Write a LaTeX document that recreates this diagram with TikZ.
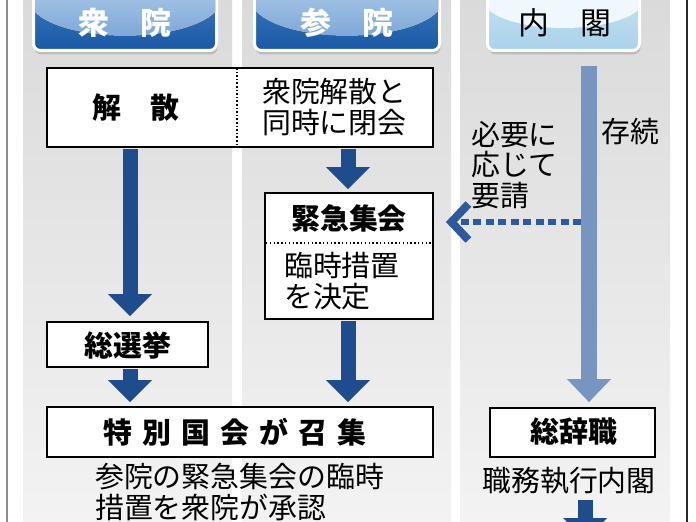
\documentclass[tikz,border=0pt]{standalone}
\usepackage{fontspec}
\setmainfont{Noto Sans CJK JP}
\usetikzlibrary{arrows.meta,shadows}
\definecolor{navy}{HTML}{1F4C8C}
\definecolor{paleblue}{HTML}{7895C0}
\definecolor{dashblue}{HTML}{2C5A9B}
\definecolor{colTop}{HTML}{DADADA}
\definecolor{colBot}{HTML}{F3F3F3}
\definecolor{hdDarkTop}{HTML}{3F7CC2}
\definecolor{hdDarkBot}{HTML}{1B58A5}
\definecolor{hdHiTop}{HTML}{BCD5EE}
\definecolor{hdHiBot}{HTML}{7EA8D8}
\definecolor{hdLtTop}{HTML}{C8E4F2}
\definecolor{hdLtBot}{HTML}{A9D2EA}
\definecolor{hdLtHi}{HTML}{EEF8FD}
\begin{document}
\begin{tikzpicture}[x=1bp,y=-1bp,
  box/.style={draw=black, line width=1.8bp, fill=white, inner sep=0pt},
  reg/.style={font=\fontsize{29}{31}\selectfont, inner sep=0pt, align=left},
  bld/.style={font=\fontsize{29}{31}\selectfont\bfseries, inner sep=0pt},
  hd/.style={font=\fontsize{31}{33}\selectfont\bfseries, inner sep=0pt},
  hdbox/.style={draw=white, line width=3bp, rounded corners=7bp,
     drop shadow={shadow xshift=1bp, shadow yshift=-4bp, opacity=0.35}},
  bigarrow/.style={draw=navy, line width=15bp,
     -{Triangle[width=44bp,length=22bp,line width=0pt]}},
  palearrow/.style={draw=paleblue, line width=16bp,
     -{Triangle[width=44bp,length=23bp,line width=0pt]}},
  dasharrow/.style={draw=dashblue, line width=6bp, dash pattern=on 8bp off 4.5bp,
     -{Straight Barb[width=36bp,length=17bp,line width=8bp]}}
]
\useasboundingbox (0,0) rectangle (696,522);
\fill[white] (0,0) rectangle (696,522);
% columns
\shade[top color=colTop, bottom color=colBot] (23,-2) rectangle (232,524);
\shade[top color=colTop, bottom color=colBot] (242,-2) rectangle (451,524);
\shade[top color=colTop, bottom color=colBot] (460,-2) rectangle (670,524);
% frame lines
\draw[black!45, line width=1.5bp] (7,-2) -- (7,524);
\draw[black!85, line width=1.5bp] (687,-2) -- (687,524);

% headers
\path[hdbox, top color=hdDarkTop, bottom color=hdDarkBot] (33.5,-14) rectangle (216.5,50.5);
\begin{scope}
  \clip[rounded corners=6bp] (35,-14) rectangle (215,49);
  \fill[top color=hdHiTop, bottom color=hdHiBot] (125,0) ellipse [x radius=96bp, y radius=36bp];
\end{scope}
\path[hdbox, top color=hdDarkTop, bottom color=hdDarkBot] (254.5,-14) rectangle (439.5,50.5);
\begin{scope}
  \clip[rounded corners=6bp] (256,-14) rectangle (438,49);
  \fill[top color=hdHiTop, bottom color=hdHiBot] (347,0) ellipse [x radius=96bp, y radius=36bp];
\end{scope}
\path[hdbox, top color=hdLtTop, bottom color=hdLtBot] (487.5,-14) rectangle (639.5,50.5);
\begin{scope}
  \clip[rounded corners=6bp] (489,-14) rectangle (638,49);
  \fill[hdLtHi] (563.5,0) ellipse [x radius=80bp, y radius=28bp];
\end{scope}
\node[hd, text=white] (hshu) at (125,23) {衆　院};
\node[hd, text=white] (hsan) at (347,23) {参　院};
\node[hd, font=\fontsize{31}{33}\selectfont, text=black] (hnai) at (565,23) {内　閣};

% column coordinates
\coordinate (c1) at (130,0);
\coordinate (c2) at (348,0);
\coordinate (c3) at (589,0);
\coordinate (ntop) at (589,66);
\coordinate (dstart) at (581,222);
\coordinate (bend) at (585,540);

% boxes
\node[box, minimum width=386bp, minimum height=79bp] (kaisan) at (240,107.5) {};
\node[box, minimum width=161bp, minimum height=45bp] (sousenkyo) at (127.5,344.5) {};
\node[box, minimum width=168bp, minimum height=126bp] (kinkyu) at (349,256) {};
\node[box, minimum width=386bp, minimum height=50bp] (tokubetsu) at (240,432) {};
\node[box, minimum width=165bp, minimum height=49bp] (soujishoku) at (572.5,432.5) {};

% dividers
\draw[black, line width=1.6bp, dash pattern=on 1.6bp off 2bp] (237,68) -- (237,147);
\draw[black, line width=1.4bp, dash pattern=on 1.4bp off 2.4bp] (266,243) -- (432,243);

% texts
\node[bld] (tkaisan) at (136,108) {解　散};
\node[reg, anchor=west] (tkaisan2) at (262,107) {衆院解散と\\同時に閉会};
\node[bld] (tkinkyu) at (349,218) {緊急集会};
\node[reg, anchor=west] (trinji) at (284,281) {臨時措置\\を決定};
\node[bld] (tsousenkyo) at (128,345) {総選挙};
\node[bld] (ttoku) at (235,432) {特\hspace{10bp}別\hspace{10bp}国\hspace{10bp}会\hspace{10bp}が\hspace{10bp}召\hspace{10bp}集};
\node[reg, anchor=west] (tshonin) at (95,492) {参院の緊急集会の臨時\\措置を衆院が承認};
\node[reg, anchor=west] (tyousei) at (471,165) {必要に\\応じて\\要請};
\node[reg, anchor=west] (tsonzoku) at (601,132) {存続};
\node[bld] (tsouji) at (574,432) {総辞職};
\node[reg] (tshokumu) at (569,481) {職務執行内閣};

% arrows
\draw[bigarrow, shorten >=5bp, shorten <=0.9bp] (kaisan.south -| c1) -- (sousenkyo.north -| c1);
\draw[bigarrow, shorten >=4bp, shorten <=0.9bp] (sousenkyo.south -| c1) -- (tokubetsu.north -| c1);
\draw[bigarrow, shorten >=3bp, shorten <=0.9bp] (kaisan.south -| c2) -- (kinkyu.north -| c2);
\draw[bigarrow, shorten >=4bp, shorten <=0.9bp] (kinkyu.south -| c2) -- (tokubetsu.north -| c2);
\draw[palearrow, shorten >=5bp] (ntop) -- (soujishoku.north -| c3);
\draw[dasharrow, shorten >=12bp] (dstart) -- (dstart -| kinkyu.east);
\draw[bigarrow, shorten <=5bp] (tshokumu.south -| bend) -- (bend);
\end{tikzpicture}
\end{document}
